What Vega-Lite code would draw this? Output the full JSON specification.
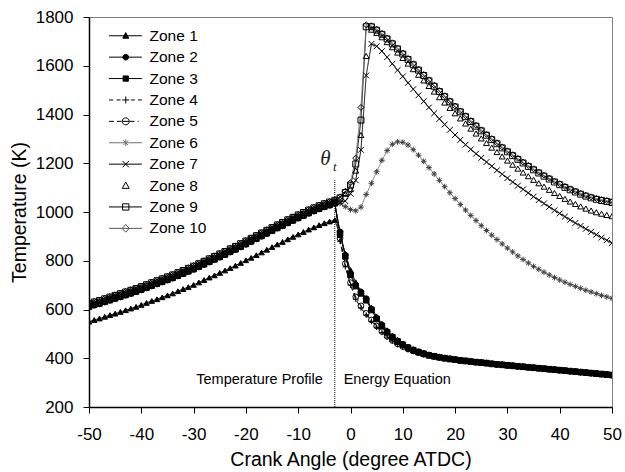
{
"$schema": "https://vega.github.io/schema/vega-lite/v6.json",
"width": 523, "height": 390,
"autosize": {"type": "none"},
"padding": {"left": 89, "top": 17, "right": 13, "bottom": 65},
"background": "white",
"config": {
 "font": "Liberation Sans",
 "view": {"stroke": "#808080", "strokeWidth": 1},
 "axis": {"domainColor": "black", "domainWidth": 1.5, "tickColor": "black", "tickSize": 6, "tickWidth": 1, "labelColor": "black", "labelFontSize": 17, "labelFont": "Liberation Sans", "titleFont": "Liberation Sans", "titleFontSize": 19.5, "titleFontWeight": "normal", "titleColor": "#000000", "grid": false, "labelFlush": false, "labelOverlap": false},
 "legend": {"orient": "none", "legendX": 29, "legendY": 11, "padding": 0, "symbolSize": 49, "symbolStrokeWidth": 1, "symbolOpacity": 1, "labelFont": "Liberation Sans", "labelFontSize": 15.5, "labelColor": "black", "labelOffset": 16, "rowPadding": 4.4}
},
"data": {"values": [
{"z":1,"a":-50,"t":550},{"z":1,"a":-49,"t":557},{"z":1,"a":-48,"t":563},{"z":1,"a":-47,"t":570},{"z":1,"a":-46,"t":577},{"z":1,"a":-45,"t":583},{"z":1,"a":-44,"t":590},{"z":1,"a":-43,"t":597},{"z":1,"a":-42,"t":604},{"z":1,"a":-41,"t":611},{"z":1,"a":-40,"t":619},{"z":1,"a":-39,"t":627},{"z":1,"a":-38,"t":635},{"z":1,"a":-37,"t":642},{"z":1,"a":-36,"t":650},{"z":1,"a":-35,"t":658},{"z":1,"a":-34,"t":666},{"z":1,"a":-33,"t":675},{"z":1,"a":-32,"t":684},{"z":1,"a":-31,"t":692},{"z":1,"a":-30,"t":701},{"z":1,"a":-29,"t":711},{"z":1,"a":-28,"t":721},{"z":1,"a":-27,"t":731},{"z":1,"a":-26,"t":740},{"z":1,"a":-25,"t":750},{"z":1,"a":-24,"t":760},{"z":1,"a":-23,"t":770},{"z":1,"a":-22,"t":780},{"z":1,"a":-21,"t":791},{"z":1,"a":-20,"t":802},{"z":1,"a":-19,"t":812},{"z":1,"a":-18,"t":823},{"z":1,"a":-17,"t":834},{"z":1,"a":-16,"t":845},{"z":1,"a":-15,"t":856},{"z":1,"a":-14,"t":867},{"z":1,"a":-13,"t":877},{"z":1,"a":-12,"t":888},{"z":1,"a":-11,"t":898},{"z":1,"a":-10,"t":908},{"z":1,"a":-9,"t":918},{"z":1,"a":-8,"t":928},{"z":1,"a":-7,"t":937},{"z":1,"a":-6,"t":946},{"z":1,"a":-5,"t":954},{"z":1,"a":-4,"t":961},{"z":1,"a":-3,"t":967},
{"z":1,"a":-2,"t":905},{"z":1,"a":-1,"t":830},{"z":1,"a":0,"t":762},{"z":1,"a":1,"t":712},{"z":1,"a":2,"t":676},{"z":1,"a":3,"t":645},{"z":1,"a":4,"t":607},{"z":1,"a":5,"t":572},{"z":1,"a":6,"t":542},{"z":1,"a":7,"t":515},{"z":1,"a":8,"t":493},{"z":1,"a":9,"t":475},{"z":1,"a":10,"t":460},{"z":1,"a":11,"t":447},{"z":1,"a":12,"t":437},{"z":1,"a":13,"t":429},{"z":1,"a":14,"t":422},{"z":1,"a":15,"t":416},{"z":1,"a":16,"t":411},{"z":1,"a":17,"t":407},{"z":1,"a":18,"t":403},{"z":1,"a":19,"t":400},{"z":1,"a":20,"t":397},{"z":1,"a":21,"t":394},{"z":1,"a":22,"t":392},{"z":1,"a":23,"t":389},{"z":1,"a":24,"t":387},{"z":1,"a":25,"t":385},{"z":1,"a":26,"t":383},{"z":1,"a":27,"t":380},{"z":1,"a":28,"t":378},{"z":1,"a":29,"t":376},{"z":1,"a":30,"t":374},{"z":1,"a":31,"t":372},{"z":1,"a":32,"t":370},{"z":1,"a":33,"t":368},{"z":1,"a":34,"t":366},{"z":1,"a":35,"t":364},{"z":1,"a":36,"t":362},{"z":1,"a":37,"t":360},{"z":1,"a":38,"t":358},{"z":1,"a":39,"t":356},{"z":1,"a":40,"t":354},{"z":1,"a":41,"t":352},{"z":1,"a":42,"t":350},{"z":1,"a":43,"t":348},{"z":1,"a":44,"t":346},{"z":1,"a":45,"t":344},{"z":1,"a":46,"t":342},{"z":1,"a":47,"t":340},{"z":1,"a":48,"t":338},{"z":1,"a":49,"t":336},{"z":1,"a":50,"t":334},
{"z":2,"a":-50,"t":610},{"z":2,"a":-49,"t":617},{"z":2,"a":-48,"t":623},{"z":2,"a":-47,"t":630},{"z":2,"a":-46,"t":637},{"z":2,"a":-45,"t":644},{"z":2,"a":-44,"t":651},{"z":2,"a":-43,"t":658},{"z":2,"a":-42,"t":665},{"z":2,"a":-41,"t":672},{"z":2,"a":-40,"t":680},{"z":2,"a":-39,"t":688},{"z":2,"a":-38,"t":696},{"z":2,"a":-37,"t":704},{"z":2,"a":-36,"t":712},{"z":2,"a":-35,"t":720},{"z":2,"a":-34,"t":728},{"z":2,"a":-33,"t":737},{"z":2,"a":-32,"t":746},{"z":2,"a":-31,"t":755},{"z":2,"a":-30,"t":764},{"z":2,"a":-29,"t":774},{"z":2,"a":-28,"t":784},{"z":2,"a":-27,"t":794},{"z":2,"a":-26,"t":804},{"z":2,"a":-25,"t":814},{"z":2,"a":-24,"t":824},{"z":2,"a":-23,"t":835},{"z":2,"a":-22,"t":845},{"z":2,"a":-21,"t":856},{"z":2,"a":-20,"t":867},{"z":2,"a":-19,"t":878},{"z":2,"a":-18,"t":889},{"z":2,"a":-17,"t":900},{"z":2,"a":-16,"t":911},{"z":2,"a":-15,"t":922},{"z":2,"a":-14,"t":933},{"z":2,"a":-13,"t":943},{"z":2,"a":-12,"t":954},{"z":2,"a":-11,"t":964},{"z":2,"a":-10,"t":974},{"z":2,"a":-9,"t":984},{"z":2,"a":-8,"t":994},{"z":2,"a":-7,"t":1003},{"z":2,"a":-6,"t":1012},{"z":2,"a":-5,"t":1020},{"z":2,"a":-4,"t":1027},{"z":2,"a":-3,"t":1034},
{"z":2,"a":-2,"t":919},{"z":2,"a":-1,"t":823},{"z":2,"a":0,"t":748},{"z":2,"a":1,"t":700},{"z":2,"a":2,"t":672},{"z":2,"a":3,"t":645},{"z":2,"a":4,"t":602},{"z":2,"a":5,"t":565},{"z":2,"a":6,"t":536},{"z":2,"a":7,"t":510},{"z":2,"a":8,"t":489},{"z":2,"a":9,"t":472},{"z":2,"a":10,"t":458},{"z":2,"a":11,"t":445},{"z":2,"a":12,"t":435},{"z":2,"a":13,"t":427},{"z":2,"a":14,"t":420},{"z":2,"a":15,"t":414},{"z":2,"a":16,"t":409},{"z":2,"a":17,"t":405},{"z":2,"a":18,"t":401},{"z":2,"a":19,"t":398},{"z":2,"a":20,"t":395},{"z":2,"a":21,"t":391},{"z":2,"a":22,"t":389},{"z":2,"a":23,"t":386},{"z":2,"a":24,"t":384},{"z":2,"a":25,"t":382},{"z":2,"a":26,"t":380},{"z":2,"a":27,"t":377},{"z":2,"a":28,"t":375},{"z":2,"a":29,"t":373},{"z":2,"a":30,"t":371},{"z":2,"a":31,"t":369},{"z":2,"a":32,"t":367},{"z":2,"a":33,"t":365},{"z":2,"a":34,"t":363},{"z":2,"a":35,"t":361},{"z":2,"a":36,"t":359},{"z":2,"a":37,"t":357},{"z":2,"a":38,"t":355},{"z":2,"a":39,"t":353},{"z":2,"a":40,"t":351},{"z":2,"a":41,"t":349},{"z":2,"a":42,"t":347},{"z":2,"a":43,"t":345},{"z":2,"a":44,"t":343},{"z":2,"a":45,"t":341},{"z":2,"a":46,"t":339},{"z":2,"a":47,"t":337},{"z":2,"a":48,"t":335},{"z":2,"a":49,"t":333},{"z":2,"a":50,"t":331},
{"z":3,"a":-50,"t":612},{"z":3,"a":-49,"t":619},{"z":3,"a":-48,"t":625},{"z":3,"a":-47,"t":632},{"z":3,"a":-46,"t":639},{"z":3,"a":-45,"t":646},{"z":3,"a":-44,"t":653},{"z":3,"a":-43,"t":660},{"z":3,"a":-42,"t":667},{"z":3,"a":-41,"t":674},{"z":3,"a":-40,"t":682},{"z":3,"a":-39,"t":690},{"z":3,"a":-38,"t":698},{"z":3,"a":-37,"t":706},{"z":3,"a":-36,"t":714},{"z":3,"a":-35,"t":722},{"z":3,"a":-34,"t":730},{"z":3,"a":-33,"t":739},{"z":3,"a":-32,"t":748},{"z":3,"a":-31,"t":757},{"z":3,"a":-30,"t":766},{"z":3,"a":-29,"t":776},{"z":3,"a":-28,"t":786},{"z":3,"a":-27,"t":796},{"z":3,"a":-26,"t":806},{"z":3,"a":-25,"t":816},{"z":3,"a":-24,"t":826},{"z":3,"a":-23,"t":837},{"z":3,"a":-22,"t":847},{"z":3,"a":-21,"t":858},{"z":3,"a":-20,"t":869},{"z":3,"a":-19,"t":880},{"z":3,"a":-18,"t":891},{"z":3,"a":-17,"t":902},{"z":3,"a":-16,"t":913},{"z":3,"a":-15,"t":924},{"z":3,"a":-14,"t":935},{"z":3,"a":-13,"t":945},{"z":3,"a":-12,"t":956},{"z":3,"a":-11,"t":966},{"z":3,"a":-10,"t":976},{"z":3,"a":-9,"t":986},{"z":3,"a":-8,"t":996},{"z":3,"a":-7,"t":1005},{"z":3,"a":-6,"t":1014},{"z":3,"a":-5,"t":1022},{"z":3,"a":-4,"t":1029},{"z":3,"a":-3,"t":1036},
{"z":3,"a":-2,"t":912},{"z":3,"a":-1,"t":818},{"z":3,"a":0,"t":742},{"z":3,"a":1,"t":696},{"z":3,"a":2,"t":666},{"z":3,"a":3,"t":638},{"z":3,"a":4,"t":598},{"z":3,"a":5,"t":561},{"z":3,"a":6,"t":532},{"z":3,"a":7,"t":506},{"z":3,"a":8,"t":486},{"z":3,"a":9,"t":469},{"z":3,"a":10,"t":455},{"z":3,"a":11,"t":443},{"z":3,"a":12,"t":433},{"z":3,"a":13,"t":425},{"z":3,"a":14,"t":418},{"z":3,"a":15,"t":412},{"z":3,"a":16,"t":408},{"z":3,"a":17,"t":404},{"z":3,"a":18,"t":400},{"z":3,"a":19,"t":397},{"z":3,"a":20,"t":394},{"z":3,"a":21,"t":391},{"z":3,"a":22,"t":389},{"z":3,"a":23,"t":386},{"z":3,"a":24,"t":384},{"z":3,"a":25,"t":382},{"z":3,"a":26,"t":380},{"z":3,"a":27,"t":377},{"z":3,"a":28,"t":375},{"z":3,"a":29,"t":373},{"z":3,"a":30,"t":371},{"z":3,"a":31,"t":369},{"z":3,"a":32,"t":367},{"z":3,"a":33,"t":365},{"z":3,"a":34,"t":363},{"z":3,"a":35,"t":361},{"z":3,"a":36,"t":359},{"z":3,"a":37,"t":357},{"z":3,"a":38,"t":355},{"z":3,"a":39,"t":353},{"z":3,"a":40,"t":351},{"z":3,"a":41,"t":349},{"z":3,"a":42,"t":347},{"z":3,"a":43,"t":345},{"z":3,"a":44,"t":343},{"z":3,"a":45,"t":341},{"z":3,"a":46,"t":339},{"z":3,"a":47,"t":337},{"z":3,"a":48,"t":335},{"z":3,"a":49,"t":333},{"z":3,"a":50,"t":331},
{"z":4,"a":-50,"t":614},{"z":4,"a":-49,"t":621},{"z":4,"a":-48,"t":627},{"z":4,"a":-47,"t":634},{"z":4,"a":-46,"t":641},{"z":4,"a":-45,"t":648},{"z":4,"a":-44,"t":655},{"z":4,"a":-43,"t":662},{"z":4,"a":-42,"t":669},{"z":4,"a":-41,"t":676},{"z":4,"a":-40,"t":684},{"z":4,"a":-39,"t":692},{"z":4,"a":-38,"t":700},{"z":4,"a":-37,"t":708},{"z":4,"a":-36,"t":716},{"z":4,"a":-35,"t":724},{"z":4,"a":-34,"t":732},{"z":4,"a":-33,"t":741},{"z":4,"a":-32,"t":750},{"z":4,"a":-31,"t":759},{"z":4,"a":-30,"t":768},{"z":4,"a":-29,"t":778},{"z":4,"a":-28,"t":788},{"z":4,"a":-27,"t":798},{"z":4,"a":-26,"t":808},{"z":4,"a":-25,"t":818},{"z":4,"a":-24,"t":828},{"z":4,"a":-23,"t":839},{"z":4,"a":-22,"t":849},{"z":4,"a":-21,"t":860},{"z":4,"a":-20,"t":871},{"z":4,"a":-19,"t":882},{"z":4,"a":-18,"t":893},{"z":4,"a":-17,"t":904},{"z":4,"a":-16,"t":915},{"z":4,"a":-15,"t":926},{"z":4,"a":-14,"t":937},{"z":4,"a":-13,"t":947},{"z":4,"a":-12,"t":958},{"z":4,"a":-11,"t":968},{"z":4,"a":-10,"t":978},{"z":4,"a":-9,"t":988},{"z":4,"a":-8,"t":998},{"z":4,"a":-7,"t":1007},{"z":4,"a":-6,"t":1016},{"z":4,"a":-5,"t":1024},{"z":4,"a":-4,"t":1031},{"z":4,"a":-3,"t":1038},
{"z":4,"a":-2,"t":880},{"z":4,"a":-1,"t":775},{"z":4,"a":0,"t":700},{"z":4,"a":1,"t":642},{"z":4,"a":2,"t":606},{"z":4,"a":3,"t":577},{"z":4,"a":4,"t":551},{"z":4,"a":5,"t":527},{"z":4,"a":6,"t":506},{"z":4,"a":7,"t":487},{"z":4,"a":8,"t":470},{"z":4,"a":9,"t":456},{"z":4,"a":10,"t":445},{"z":4,"a":11,"t":436},{"z":4,"a":12,"t":428},{"z":4,"a":13,"t":421},{"z":4,"a":14,"t":415},{"z":4,"a":15,"t":410},{"z":4,"a":16,"t":406},{"z":4,"a":17,"t":402},{"z":4,"a":18,"t":399},{"z":4,"a":19,"t":396},{"z":4,"a":20,"t":393},{"z":4,"a":21,"t":390},{"z":4,"a":22,"t":388},{"z":4,"a":23,"t":385},{"z":4,"a":24,"t":383},{"z":4,"a":25,"t":381},{"z":4,"a":26,"t":379},{"z":4,"a":27,"t":376},{"z":4,"a":28,"t":374},{"z":4,"a":29,"t":372},{"z":4,"a":30,"t":370},{"z":4,"a":31,"t":368},{"z":4,"a":32,"t":366},{"z":4,"a":33,"t":364},{"z":4,"a":34,"t":362},{"z":4,"a":35,"t":360},{"z":4,"a":36,"t":358},{"z":4,"a":37,"t":356},{"z":4,"a":38,"t":354},{"z":4,"a":39,"t":352},{"z":4,"a":40,"t":350},{"z":4,"a":41,"t":348},{"z":4,"a":42,"t":346},{"z":4,"a":43,"t":344},{"z":4,"a":44,"t":342},{"z":4,"a":45,"t":340},{"z":4,"a":46,"t":338},{"z":4,"a":47,"t":336},{"z":4,"a":48,"t":334},{"z":4,"a":49,"t":332},{"z":4,"a":50,"t":330},
{"z":5,"a":-50,"t":616},{"z":5,"a":-49,"t":623},{"z":5,"a":-48,"t":629},{"z":5,"a":-47,"t":636},{"z":5,"a":-46,"t":643},{"z":5,"a":-45,"t":650},{"z":5,"a":-44,"t":657},{"z":5,"a":-43,"t":664},{"z":5,"a":-42,"t":671},{"z":5,"a":-41,"t":678},{"z":5,"a":-40,"t":686},{"z":5,"a":-39,"t":694},{"z":5,"a":-38,"t":702},{"z":5,"a":-37,"t":710},{"z":5,"a":-36,"t":718},{"z":5,"a":-35,"t":726},{"z":5,"a":-34,"t":734},{"z":5,"a":-33,"t":743},{"z":5,"a":-32,"t":752},{"z":5,"a":-31,"t":761},{"z":5,"a":-30,"t":770},{"z":5,"a":-29,"t":780},{"z":5,"a":-28,"t":790},{"z":5,"a":-27,"t":800},{"z":5,"a":-26,"t":810},{"z":5,"a":-25,"t":820},{"z":5,"a":-24,"t":830},{"z":5,"a":-23,"t":841},{"z":5,"a":-22,"t":851},{"z":5,"a":-21,"t":862},{"z":5,"a":-20,"t":873},{"z":5,"a":-19,"t":884},{"z":5,"a":-18,"t":895},{"z":5,"a":-17,"t":906},{"z":5,"a":-16,"t":917},{"z":5,"a":-15,"t":928},{"z":5,"a":-14,"t":939},{"z":5,"a":-13,"t":949},{"z":5,"a":-12,"t":960},{"z":5,"a":-11,"t":970},{"z":5,"a":-10,"t":980},{"z":5,"a":-9,"t":990},{"z":5,"a":-8,"t":1000},{"z":5,"a":-7,"t":1009},{"z":5,"a":-6,"t":1018},{"z":5,"a":-5,"t":1026},{"z":5,"a":-4,"t":1033},{"z":5,"a":-3,"t":1040},
{"z":5,"a":-2,"t":892},{"z":5,"a":-1,"t":788},{"z":5,"a":0,"t":710},{"z":5,"a":1,"t":652},{"z":5,"a":2,"t":615},{"z":5,"a":3,"t":584},{"z":5,"a":4,"t":557},{"z":5,"a":5,"t":532},{"z":5,"a":6,"t":510},{"z":5,"a":7,"t":490},{"z":5,"a":8,"t":473},{"z":5,"a":9,"t":459},{"z":5,"a":10,"t":448},{"z":5,"a":11,"t":438},{"z":5,"a":12,"t":430},{"z":5,"a":13,"t":423},{"z":5,"a":14,"t":417},{"z":5,"a":15,"t":412},{"z":5,"a":16,"t":407},{"z":5,"a":17,"t":403},{"z":5,"a":18,"t":400},{"z":5,"a":19,"t":397},{"z":5,"a":20,"t":394},{"z":5,"a":21,"t":391},{"z":5,"a":22,"t":389},{"z":5,"a":23,"t":386},{"z":5,"a":24,"t":384},{"z":5,"a":25,"t":382},{"z":5,"a":26,"t":380},{"z":5,"a":27,"t":377},{"z":5,"a":28,"t":375},{"z":5,"a":29,"t":373},{"z":5,"a":30,"t":371},{"z":5,"a":31,"t":369},{"z":5,"a":32,"t":367},{"z":5,"a":33,"t":365},{"z":5,"a":34,"t":363},{"z":5,"a":35,"t":361},{"z":5,"a":36,"t":359},{"z":5,"a":37,"t":357},{"z":5,"a":38,"t":355},{"z":5,"a":39,"t":353},{"z":5,"a":40,"t":351},{"z":5,"a":41,"t":349},{"z":5,"a":42,"t":347},{"z":5,"a":43,"t":345},{"z":5,"a":44,"t":343},{"z":5,"a":45,"t":341},{"z":5,"a":46,"t":339},{"z":5,"a":47,"t":337},{"z":5,"a":48,"t":335},{"z":5,"a":49,"t":333},{"z":5,"a":50,"t":331},
{"z":6,"a":-50,"t":618},{"z":6,"a":-49,"t":625},{"z":6,"a":-48,"t":631},{"z":6,"a":-47,"t":638},{"z":6,"a":-46,"t":645},{"z":6,"a":-45,"t":652},{"z":6,"a":-44,"t":659},{"z":6,"a":-43,"t":666},{"z":6,"a":-42,"t":673},{"z":6,"a":-41,"t":680},{"z":6,"a":-40,"t":688},{"z":6,"a":-39,"t":696},{"z":6,"a":-38,"t":704},{"z":6,"a":-37,"t":712},{"z":6,"a":-36,"t":720},{"z":6,"a":-35,"t":728},{"z":6,"a":-34,"t":736},{"z":6,"a":-33,"t":745},{"z":6,"a":-32,"t":754},{"z":6,"a":-31,"t":763},{"z":6,"a":-30,"t":772},{"z":6,"a":-29,"t":782},{"z":6,"a":-28,"t":792},{"z":6,"a":-27,"t":802},{"z":6,"a":-26,"t":812},{"z":6,"a":-25,"t":822},{"z":6,"a":-24,"t":832},{"z":6,"a":-23,"t":843},{"z":6,"a":-22,"t":853},{"z":6,"a":-21,"t":864},{"z":6,"a":-20,"t":875},{"z":6,"a":-19,"t":886},{"z":6,"a":-18,"t":897},{"z":6,"a":-17,"t":908},{"z":6,"a":-16,"t":919},{"z":6,"a":-15,"t":930},{"z":6,"a":-14,"t":941},{"z":6,"a":-13,"t":951},{"z":6,"a":-12,"t":962},{"z":6,"a":-11,"t":972},{"z":6,"a":-10,"t":982},{"z":6,"a":-9,"t":992},{"z":6,"a":-8,"t":1002},{"z":6,"a":-7,"t":1011},{"z":6,"a":-6,"t":1020},{"z":6,"a":-5,"t":1028},{"z":6,"a":-4,"t":1035},{"z":6,"a":-3,"t":1042},
{"z":6,"a":-2,"t":1035},{"z":6,"a":-1,"t":1022},{"z":6,"a":0,"t":1010},{"z":6,"a":1,"t":1005},{"z":6,"a":2,"t":1020},{"z":6,"a":3,"t":1072},{"z":6,"a":4,"t":1118},{"z":6,"a":5,"t":1165},{"z":6,"a":6,"t":1212},{"z":6,"a":7,"t":1252},{"z":6,"a":8,"t":1278},{"z":6,"a":9,"t":1288},{"z":6,"a":10,"t":1286},{"z":6,"a":11,"t":1275},{"z":6,"a":12,"t":1256},{"z":6,"a":13,"t":1233},{"z":6,"a":14,"t":1208},{"z":6,"a":15,"t":1182},{"z":6,"a":16,"t":1156},{"z":6,"a":17,"t":1130},{"z":6,"a":18,"t":1104},{"z":6,"a":19,"t":1079},{"z":6,"a":20,"t":1055},{"z":6,"a":21,"t":1031},{"z":6,"a":22,"t":1008},{"z":6,"a":23,"t":986},{"z":6,"a":24,"t":965},{"z":6,"a":25,"t":944},{"z":6,"a":26,"t":924},{"z":6,"a":27,"t":905},{"z":6,"a":28,"t":887},{"z":6,"a":29,"t":869},{"z":6,"a":30,"t":852},{"z":6,"a":31,"t":836},{"z":6,"a":32,"t":820},{"z":6,"a":33,"t":805},{"z":6,"a":34,"t":791},{"z":6,"a":35,"t":777},{"z":6,"a":36,"t":765},{"z":6,"a":37,"t":753},{"z":6,"a":38,"t":742},{"z":6,"a":39,"t":731},{"z":6,"a":40,"t":721},{"z":6,"a":41,"t":712},{"z":6,"a":42,"t":703},{"z":6,"a":43,"t":695},{"z":6,"a":44,"t":687},{"z":6,"a":45,"t":679},{"z":6,"a":46,"t":672},{"z":6,"a":47,"t":665},{"z":6,"a":48,"t":658},{"z":6,"a":49,"t":652},{"z":6,"a":50,"t":646},
{"z":7,"a":-50,"t":620},{"z":7,"a":-49,"t":627},{"z":7,"a":-48,"t":633},{"z":7,"a":-47,"t":640},{"z":7,"a":-46,"t":647},{"z":7,"a":-45,"t":654},{"z":7,"a":-44,"t":661},{"z":7,"a":-43,"t":668},{"z":7,"a":-42,"t":675},{"z":7,"a":-41,"t":682},{"z":7,"a":-40,"t":690},{"z":7,"a":-39,"t":698},{"z":7,"a":-38,"t":706},{"z":7,"a":-37,"t":714},{"z":7,"a":-36,"t":722},{"z":7,"a":-35,"t":730},{"z":7,"a":-34,"t":738},{"z":7,"a":-33,"t":747},{"z":7,"a":-32,"t":756},{"z":7,"a":-31,"t":765},{"z":7,"a":-30,"t":774},{"z":7,"a":-29,"t":784},{"z":7,"a":-28,"t":794},{"z":7,"a":-27,"t":804},{"z":7,"a":-26,"t":814},{"z":7,"a":-25,"t":824},{"z":7,"a":-24,"t":834},{"z":7,"a":-23,"t":845},{"z":7,"a":-22,"t":855},{"z":7,"a":-21,"t":866},{"z":7,"a":-20,"t":877},{"z":7,"a":-19,"t":888},{"z":7,"a":-18,"t":899},{"z":7,"a":-17,"t":910},{"z":7,"a":-16,"t":921},{"z":7,"a":-15,"t":932},{"z":7,"a":-14,"t":943},{"z":7,"a":-13,"t":953},{"z":7,"a":-12,"t":964},{"z":7,"a":-11,"t":974},{"z":7,"a":-10,"t":984},{"z":7,"a":-9,"t":994},{"z":7,"a":-8,"t":1004},{"z":7,"a":-7,"t":1013},{"z":7,"a":-6,"t":1022},{"z":7,"a":-5,"t":1030},{"z":7,"a":-4,"t":1037},{"z":7,"a":-3,"t":1044},
{"z":7,"a":-2,"t":1038},{"z":7,"a":-1,"t":1045},{"z":7,"a":0,"t":1075},{"z":7,"a":1,"t":1130},{"z":7,"a":2,"t":1255},{"z":7,"a":3,"t":1560},{"z":7,"a":4,"t":1690},{"z":7,"a":5,"t":1680},{"z":7,"a":6,"t":1660},{"z":7,"a":7,"t":1635},{"z":7,"a":8,"t":1608},{"z":7,"a":9,"t":1582},{"z":7,"a":10,"t":1556},{"z":7,"a":11,"t":1530},{"z":7,"a":12,"t":1504},{"z":7,"a":13,"t":1479},{"z":7,"a":14,"t":1454},{"z":7,"a":15,"t":1429},{"z":7,"a":16,"t":1405},{"z":7,"a":17,"t":1382},{"z":7,"a":18,"t":1359},{"z":7,"a":19,"t":1337},{"z":7,"a":20,"t":1316},{"z":7,"a":21,"t":1296},{"z":7,"a":22,"t":1276},{"z":7,"a":23,"t":1257},{"z":7,"a":24,"t":1239},{"z":7,"a":25,"t":1222},{"z":7,"a":26,"t":1205},{"z":7,"a":27,"t":1188},{"z":7,"a":28,"t":1171},{"z":7,"a":29,"t":1155},{"z":7,"a":30,"t":1139},{"z":7,"a":31,"t":1123},{"z":7,"a":32,"t":1108},{"z":7,"a":33,"t":1093},{"z":7,"a":34,"t":1078},{"z":7,"a":35,"t":1063},{"z":7,"a":36,"t":1049},{"z":7,"a":37,"t":1035},{"z":7,"a":38,"t":1021},{"z":7,"a":39,"t":1007},{"z":7,"a":40,"t":994},{"z":7,"a":41,"t":981},{"z":7,"a":42,"t":968},{"z":7,"a":43,"t":955},{"z":7,"a":44,"t":943},{"z":7,"a":45,"t":931},{"z":7,"a":46,"t":919},{"z":7,"a":47,"t":907},{"z":7,"a":48,"t":895},{"z":7,"a":49,"t":884},{"z":7,"a":50,"t":873},
{"z":8,"a":-50,"t":622},{"z":8,"a":-49,"t":629},{"z":8,"a":-48,"t":635},{"z":8,"a":-47,"t":642},{"z":8,"a":-46,"t":649},{"z":8,"a":-45,"t":656},{"z":8,"a":-44,"t":663},{"z":8,"a":-43,"t":670},{"z":8,"a":-42,"t":677},{"z":8,"a":-41,"t":684},{"z":8,"a":-40,"t":692},{"z":8,"a":-39,"t":700},{"z":8,"a":-38,"t":708},{"z":8,"a":-37,"t":716},{"z":8,"a":-36,"t":724},{"z":8,"a":-35,"t":732},{"z":8,"a":-34,"t":740},{"z":8,"a":-33,"t":749},{"z":8,"a":-32,"t":758},{"z":8,"a":-31,"t":767},{"z":8,"a":-30,"t":776},{"z":8,"a":-29,"t":786},{"z":8,"a":-28,"t":796},{"z":8,"a":-27,"t":806},{"z":8,"a":-26,"t":816},{"z":8,"a":-25,"t":826},{"z":8,"a":-24,"t":836},{"z":8,"a":-23,"t":847},{"z":8,"a":-22,"t":857},{"z":8,"a":-21,"t":868},{"z":8,"a":-20,"t":879},{"z":8,"a":-19,"t":890},{"z":8,"a":-18,"t":901},{"z":8,"a":-17,"t":912},{"z":8,"a":-16,"t":923},{"z":8,"a":-15,"t":934},{"z":8,"a":-14,"t":945},{"z":8,"a":-13,"t":955},{"z":8,"a":-12,"t":966},{"z":8,"a":-11,"t":976},{"z":8,"a":-10,"t":986},{"z":8,"a":-9,"t":996},{"z":8,"a":-8,"t":1006},{"z":8,"a":-7,"t":1015},{"z":8,"a":-6,"t":1024},{"z":8,"a":-5,"t":1032},{"z":8,"a":-4,"t":1039},{"z":8,"a":-3,"t":1046},
{"z":8,"a":-2,"t":1055},{"z":8,"a":-1,"t":1075},{"z":8,"a":0,"t":1095},{"z":8,"a":1,"t":1170},{"z":8,"a":2,"t":1316},{"z":8,"a":3,"t":1640},{"z":8,"a":4,"t":1748},{"z":8,"a":5,"t":1735},{"z":8,"a":6,"t":1717},{"z":8,"a":7,"t":1697},{"z":8,"a":8,"t":1676},{"z":8,"a":9,"t":1654},{"z":8,"a":10,"t":1632},{"z":8,"a":11,"t":1609},{"z":8,"a":12,"t":1586},{"z":8,"a":13,"t":1563},{"z":8,"a":14,"t":1540},{"z":8,"a":15,"t":1517},{"z":8,"a":16,"t":1494},{"z":8,"a":17,"t":1471},{"z":8,"a":18,"t":1449},{"z":8,"a":19,"t":1427},{"z":8,"a":20,"t":1405},{"z":8,"a":21,"t":1384},{"z":8,"a":22,"t":1363},{"z":8,"a":23,"t":1342},{"z":8,"a":24,"t":1322},{"z":8,"a":25,"t":1302},{"z":8,"a":26,"t":1283},{"z":8,"a":27,"t":1264},{"z":8,"a":28,"t":1246},{"z":8,"a":29,"t":1228},{"z":8,"a":30,"t":1211},{"z":8,"a":31,"t":1194},{"z":8,"a":32,"t":1178},{"z":8,"a":33,"t":1162},{"z":8,"a":34,"t":1147},{"z":8,"a":35,"t":1132},{"z":8,"a":36,"t":1118},{"z":8,"a":37,"t":1104},{"z":8,"a":38,"t":1091},{"z":8,"a":39,"t":1078},{"z":8,"a":40,"t":1066},{"z":8,"a":41,"t":1054},{"z":8,"a":42,"t":1043},{"z":8,"a":43,"t":1033},{"z":8,"a":44,"t":1023},{"z":8,"a":45,"t":1014},{"z":8,"a":46,"t":1006},{"z":8,"a":47,"t":999},{"z":8,"a":48,"t":993},{"z":8,"a":49,"t":988},{"z":8,"a":50,"t":983},
{"z":9,"a":-50,"t":624},{"z":9,"a":-49,"t":631},{"z":9,"a":-48,"t":637},{"z":9,"a":-47,"t":644},{"z":9,"a":-46,"t":651},{"z":9,"a":-45,"t":658},{"z":9,"a":-44,"t":665},{"z":9,"a":-43,"t":672},{"z":9,"a":-42,"t":679},{"z":9,"a":-41,"t":686},{"z":9,"a":-40,"t":694},{"z":9,"a":-39,"t":702},{"z":9,"a":-38,"t":710},{"z":9,"a":-37,"t":718},{"z":9,"a":-36,"t":726},{"z":9,"a":-35,"t":734},{"z":9,"a":-34,"t":742},{"z":9,"a":-33,"t":751},{"z":9,"a":-32,"t":760},{"z":9,"a":-31,"t":769},{"z":9,"a":-30,"t":778},{"z":9,"a":-29,"t":788},{"z":9,"a":-28,"t":798},{"z":9,"a":-27,"t":808},{"z":9,"a":-26,"t":818},{"z":9,"a":-25,"t":828},{"z":9,"a":-24,"t":838},{"z":9,"a":-23,"t":849},{"z":9,"a":-22,"t":859},{"z":9,"a":-21,"t":870},{"z":9,"a":-20,"t":881},{"z":9,"a":-19,"t":892},{"z":9,"a":-18,"t":903},{"z":9,"a":-17,"t":914},{"z":9,"a":-16,"t":925},{"z":9,"a":-15,"t":936},{"z":9,"a":-14,"t":947},{"z":9,"a":-13,"t":957},{"z":9,"a":-12,"t":968},{"z":9,"a":-11,"t":978},{"z":9,"a":-10,"t":988},{"z":9,"a":-9,"t":998},{"z":9,"a":-8,"t":1008},{"z":9,"a":-7,"t":1017},{"z":9,"a":-6,"t":1026},{"z":9,"a":-5,"t":1034},{"z":9,"a":-4,"t":1041},{"z":9,"a":-3,"t":1048},
{"z":9,"a":-2,"t":1058},{"z":9,"a":-1,"t":1080},{"z":9,"a":0,"t":1110},{"z":9,"a":1,"t":1197},{"z":9,"a":2,"t":1377},{"z":9,"a":3,"t":1760},{"z":9,"a":4,"t":1760},{"z":9,"a":5,"t":1746},{"z":9,"a":6,"t":1729},{"z":9,"a":7,"t":1710},{"z":9,"a":8,"t":1690},{"z":9,"a":9,"t":1669},{"z":9,"a":10,"t":1648},{"z":9,"a":11,"t":1626},{"z":9,"a":12,"t":1604},{"z":9,"a":13,"t":1582},{"z":9,"a":14,"t":1560},{"z":9,"a":15,"t":1538},{"z":9,"a":16,"t":1516},{"z":9,"a":17,"t":1494},{"z":9,"a":18,"t":1473},{"z":9,"a":19,"t":1452},{"z":9,"a":20,"t":1431},{"z":9,"a":21,"t":1411},{"z":9,"a":22,"t":1391},{"z":9,"a":23,"t":1371},{"z":9,"a":24,"t":1352},{"z":9,"a":25,"t":1333},{"z":9,"a":26,"t":1315},{"z":9,"a":27,"t":1297},{"z":9,"a":28,"t":1280},{"z":9,"a":29,"t":1263},{"z":9,"a":30,"t":1247},{"z":9,"a":31,"t":1231},{"z":9,"a":32,"t":1216},{"z":9,"a":33,"t":1201},{"z":9,"a":34,"t":1187},{"z":9,"a":35,"t":1173},{"z":9,"a":36,"t":1160},{"z":9,"a":37,"t":1147},{"z":9,"a":38,"t":1135},{"z":9,"a":39,"t":1123},{"z":9,"a":40,"t":1112},{"z":9,"a":41,"t":1101},{"z":9,"a":42,"t":1091},{"z":9,"a":43,"t":1082},{"z":9,"a":44,"t":1073},{"z":9,"a":45,"t":1065},{"z":9,"a":46,"t":1058},{"z":9,"a":47,"t":1052},{"z":9,"a":48,"t":1047},{"z":9,"a":49,"t":1043},{"z":9,"a":50,"t":1039},
{"z":10,"a":-50,"t":626},{"z":10,"a":-49,"t":633},{"z":10,"a":-48,"t":639},{"z":10,"a":-47,"t":646},{"z":10,"a":-46,"t":653},{"z":10,"a":-45,"t":660},{"z":10,"a":-44,"t":667},{"z":10,"a":-43,"t":674},{"z":10,"a":-42,"t":681},{"z":10,"a":-41,"t":688},{"z":10,"a":-40,"t":696},{"z":10,"a":-39,"t":704},{"z":10,"a":-38,"t":712},{"z":10,"a":-37,"t":720},{"z":10,"a":-36,"t":728},{"z":10,"a":-35,"t":736},{"z":10,"a":-34,"t":744},{"z":10,"a":-33,"t":753},{"z":10,"a":-32,"t":762},{"z":10,"a":-31,"t":771},{"z":10,"a":-30,"t":780},{"z":10,"a":-29,"t":790},{"z":10,"a":-28,"t":800},{"z":10,"a":-27,"t":810},{"z":10,"a":-26,"t":820},{"z":10,"a":-25,"t":830},{"z":10,"a":-24,"t":840},{"z":10,"a":-23,"t":851},{"z":10,"a":-22,"t":861},{"z":10,"a":-21,"t":872},{"z":10,"a":-20,"t":883},{"z":10,"a":-19,"t":894},{"z":10,"a":-18,"t":905},{"z":10,"a":-17,"t":916},{"z":10,"a":-16,"t":927},{"z":10,"a":-15,"t":938},{"z":10,"a":-14,"t":949},{"z":10,"a":-13,"t":959},{"z":10,"a":-12,"t":970},{"z":10,"a":-11,"t":980},{"z":10,"a":-10,"t":990},{"z":10,"a":-9,"t":1000},{"z":10,"a":-8,"t":1010},{"z":10,"a":-7,"t":1019},{"z":10,"a":-6,"t":1028},{"z":10,"a":-5,"t":1036},{"z":10,"a":-4,"t":1043},{"z":10,"a":-3,"t":1050},
{"z":10,"a":-2,"t":1062},{"z":10,"a":-1,"t":1085},{"z":10,"a":0,"t":1120},{"z":10,"a":1,"t":1221},{"z":10,"a":2,"t":1429},{"z":10,"a":3,"t":1768},{"z":10,"a":4,"t":1764},{"z":10,"a":5,"t":1750},{"z":10,"a":6,"t":1733},{"z":10,"a":7,"t":1714},{"z":10,"a":8,"t":1694},{"z":10,"a":9,"t":1673},{"z":10,"a":10,"t":1652},{"z":10,"a":11,"t":1630},{"z":10,"a":12,"t":1608},{"z":10,"a":13,"t":1586},{"z":10,"a":14,"t":1564},{"z":10,"a":15,"t":1542},{"z":10,"a":16,"t":1520},{"z":10,"a":17,"t":1498},{"z":10,"a":18,"t":1477},{"z":10,"a":19,"t":1456},{"z":10,"a":20,"t":1435},{"z":10,"a":21,"t":1415},{"z":10,"a":22,"t":1395},{"z":10,"a":23,"t":1375},{"z":10,"a":24,"t":1356},{"z":10,"a":25,"t":1337},{"z":10,"a":26,"t":1319},{"z":10,"a":27,"t":1301},{"z":10,"a":28,"t":1284},{"z":10,"a":29,"t":1267},{"z":10,"a":30,"t":1251},{"z":10,"a":31,"t":1235},{"z":10,"a":32,"t":1220},{"z":10,"a":33,"t":1205},{"z":10,"a":34,"t":1191},{"z":10,"a":35,"t":1177},{"z":10,"a":36,"t":1164},{"z":10,"a":37,"t":1151},{"z":10,"a":38,"t":1139},{"z":10,"a":39,"t":1127},{"z":10,"a":40,"t":1116},{"z":10,"a":41,"t":1105},{"z":10,"a":42,"t":1095},{"z":10,"a":43,"t":1086},{"z":10,"a":44,"t":1077},{"z":10,"a":45,"t":1069},{"z":10,"a":46,"t":1062},{"z":10,"a":47,"t":1056},{"z":10,"a":48,"t":1051},{"z":10,"a":49,"t":1047},{"z":10,"a":50,"t":1043}
]},
"resolve": {"scale": {"shape": "independent", "fill": "independent", "stroke": "independent"}},
"layer": [
 {"transform": [{"filter": "datum.z != 8"}],
  "mark": {"type": "line", "strokeWidth": 1, "clip": true},
  "encoding": {
   "x": {"field": "a", "type": "quantitative", "scale": {"domain": [-50, 50], "nice": false},
         "axis": {"title": "Crank Angle (degree ATDC)", "values": [-50,-40,-30,-20,-10,0,10,20,30,40,50], "labelExpr": "datum.value < 0 ? '-' + (-datum.value) : '' + datum.value", "labelPadding": 13, "titlePadding": 8}},
   "y": {"field": "t", "type": "quantitative", "scale": {"domain": [200, 1800], "nice": false},
         "axis": {"title": "Temperature (K)", "values": [200,400,600,800,1000,1200,1400,1600,1800], "labelExpr": "'' + datum.value", "labelPadding": 10, "titlePadding": 6}},
   "stroke": {"field": "z", "type": "nominal", "scale": {"domain": [1,2,3,4,5,6,7,9,10], "range": ["#000000","#000000","#000000","#000000","#000000","#808080","#000000","#000000","#707070"]}, "legend": null},
   "strokeDash": {"field": "z", "type": "nominal", "scale": {"domain": [1,2,3,4,5,6,7,9,10], "range": [[1,0],[1,0],[1,0],[5,3],[5,3,1,3],[1,0],[1,0],[1,0],[1,0]]}, "legend": null}
  }},
 {"mark": {"type": "point", "opacity": 1, "strokeWidth": 1, "clip": true},
  "encoding": {
   "x": {"field": "a", "type": "quantitative"},
   "y": {"field": "t", "type": "quantitative"},
   "shape": {"field": "z", "type": "nominal", "scale": {"domain": [1,2,3,4,5,6,7,8,9,10], "range": ["triangle-up","circle","square","M-1,0H1M0,-1V1","circle","M-1,0H1M0,-1V1M-0.7,-0.7L0.7,0.7M-0.7,0.7L0.7,-0.7","M-1,-1L1,1M-1,1L1,-1","triangle-up","square","diamond"]}, "legend": null},
   "fill": {"field": "z", "type": "nominal", "scale": {"domain": [1,2,3,4,5,6,7,8,9,10], "range": ["#000000","#000000","#000000","transparent","transparent","transparent","transparent","transparent","transparent","transparent"]}, "legend": null},
   "stroke": {"field": "z", "type": "nominal", "scale": {"domain": [1,2,3,4,5,6,7,8,9,10], "range": ["#000000","#000000","#000000","#000000","#000000","#404040","#000000","#000000","#000000","#000000"]}, "legend": null},
   "size": {"field": "z", "type": "ordinal", "scale": {"domain": [1,2,3,4,5,6,7,8,9,10], "range": [30,36,30,64,40,64,56,56,45,50]}, "legend": null}
  }},
 {"transform": [{"filter": "datum.a == 50"}],
  "mark": {"type": "point", "opacity": 0, "strokeWidth": 1},
  "encoding": {
   "x": {"field": "a", "type": "quantitative"},
   "y": {"field": "t", "type": "quantitative"},
   "shape": {"field": "z", "type": "nominal", "scale": {"domain": [1,2,3,4,5,6,7,8,9,10], "range": [
     "M-4.8,0H4.6M0,-0.9L0.85,0.7H-0.85Z",
     "M-4.8,0H4.6M-0.8,0A0.8,0.8 0 1,1 0.8,0A0.8,0.8 0 1,1 -0.8,0Z",
     "M-4.8,0H4.6M-0.75,-0.75H0.75V0.75H-0.75Z",
     "M-4.8,0H-3.6M-2.6,0H-1.5M1.5,0H2.6M3.5,0H4.6M-1,0H1M0,-1V1",
     "M-4.8,0H-3.4M-2.5,0H-1.2M1.2,0H2.5M3.4,0H3.7M-1,0H1M-1,0A1,1 0 1,1 1,0A1,1 0 1,1 -1,0Z",
     "M-4.8,0H4.6M0,-1V1M-0.7,-0.7L0.7,0.7M-0.7,0.7L0.7,-0.7",
     "M-4.8,0H4.6M-0.9,-0.9L0.9,0.9M-0.9,0.9L0.9,-0.9",
     "M0,-1L1,0.8H-1Z",
     "M-4.8,0H4.6M-0.9,-0.9H0.9V0.9H-0.9Z",
     "M-4.8,0H4.6M0,-1.1L1,0L0,1.1L-1,0Z"]},
     "legend": {"title": null, "labelExpr": "'Zone ' + datum.label"}},
   "fill": {"field": "z", "type": "nominal", "scale": {"domain": [1,2,3,4,5,6,7,8,9,10], "range": ["#000000","#000000","#000000","transparent","transparent","transparent","transparent","transparent","transparent","transparent"]}, "legend": {"title": null, "labelExpr": "'Zone ' + datum.label"}},
   "stroke": {"field": "z", "type": "nominal", "scale": {"domain": [1,2,3,4,5,6,7,8,9,10], "range": ["#000000","#000000","#000000","#000000","#000000","#707070","#000000","#000000","#000000","#555555"]}, "legend": {"title": null, "labelExpr": "'Zone ' + datum.label"}}
  }},
 {"data": {"values": [{}]},
  "mark": {"type": "rule", "strokeDash": [1, 1], "color": "black", "strokeWidth": 1},
  "encoding": {"x": {"datum": -3, "type": "quantitative"}, "y": {"datum": 200, "type": "quantitative"}, "y2": {"datum": 1130}}},
 {"data": {"values": [{}]},
  "mark": {"type": "text", "text": "Temperature Profile", "align": "right", "baseline": "middle", "fontSize": 14.5, "font": "Liberation Sans", "color": "black"},
  "encoding": {"x": {"datum": -5.3, "type": "quantitative"}, "y": {"datum": 311, "type": "quantitative"}}},
 {"data": {"values": [{}]},
  "mark": {"type": "text", "text": "Energy Equation", "align": "left", "baseline": "middle", "fontSize": 14.5, "font": "Liberation Sans", "color": "black"},
  "encoding": {"x": {"datum": -1.3, "type": "quantitative"}, "y": {"datum": 311, "type": "quantitative"}}},
 {"data": {"values": [{}]},
  "mark": {"type": "text", "text": "θ", "align": "center", "baseline": "middle", "fontSize": 21, "font": "Liberation Serif", "fontStyle": "italic", "color": "#222222"},
  "encoding": {"x": {"datum": -4.8, "type": "quantitative"}, "y": {"datum": 1217, "type": "quantitative"}}},
 {"data": {"values": [{}]},
  "mark": {"type": "text", "text": "t", "align": "center", "baseline": "middle", "fontSize": 13, "font": "Liberation Serif", "fontStyle": "italic", "color": "#222222"},
  "encoding": {"x": {"datum": -3.0, "type": "quantitative"}, "y": {"datum": 1185, "type": "quantitative"}}}
]
}
